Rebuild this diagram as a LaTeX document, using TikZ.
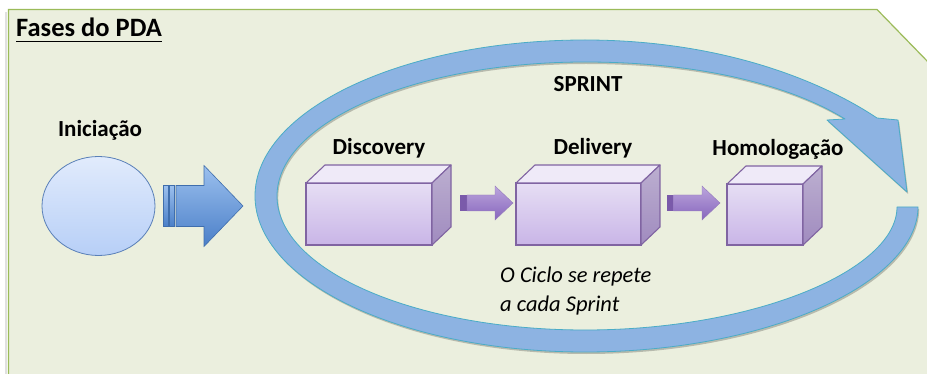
\documentclass[tikz,border=0pt]{standalone}
\usepackage{fontspec}
\setmainfont{Carlito}
\usetikzlibrary{shapes.geometric,calc}
\definecolor{panelfill}{HTML}{EBEFDE}
\definecolor{panelline}{HTML}{9BBB59}
\definecolor{ringfill}{HTML}{8DB3E2}
\definecolor{ringline}{HTML}{4BACC6}
\definecolor{boxline}{HTML}{8064A2}
\definecolor{fronttop}{HTML}{E6DEF4}
\definecolor{frontbot}{HTML}{C9B5E7}
\definecolor{topface}{HTML}{EFEAF8}
\definecolor{sidetop}{HTML}{BCAFD0}
\definecolor{sidebot}{HTML}{A08BBF}
\definecolor{ellitop}{HTML}{E1EBFC}
\definecolor{ellibot}{HTML}{B7CFF7}
\definecolor{elliline}{HTML}{5A80B8}
\definecolor{bigtop}{HTML}{9CC0EE}
\definecolor{bigbot}{HTML}{4A7FC8}
\definecolor{bigline}{HTML}{3F6EAD}
\definecolor{parrtop}{HTML}{BBA5DD}
\definecolor{parrbot}{HTML}{8766BC}
\definecolor{parrstub}{HTML}{7A5AAA}
\def\ringpath{(918,207) .. controls (918,282) and (769,352) .. (585,352)
 .. controls (403,352) and (255,282) .. (255,196)
 .. controls (255,110) and (403,40) .. (585,40)
 .. controls (720,40) and (820,80) .. (877,118)
 -- (898,120) -- (907,192) -- (827,120) -- (845,119)
 .. controls (790,85) and (700,62) .. (585,62)
 .. controls (415,62) and (277,122) .. (277,196)
 .. controls (277,270) and (415,330) .. (585,330)
 .. controls (755,330) and (897,270) .. (897,207) -- cycle}
\newcommand\cuboid[5]{%
  \node[frontface, minimum width=#4, minimum height=#5] (#1) at (#2,#3) {};
  \path[topfacestyle] (#1.north west) -- ([shift={(19,-18)}]#1.north west) -- ([shift={(19,-18)}]#1.north east) -- (#1.north east) -- cycle;
  \path[sidefacestyle] (#1.north east) -- ([shift={(19,-18)}]#1.north east) -- ([shift={(19,-18)}]#1.south east) -- (#1.south east) -- cycle;
}
\newcommand\purplearrow[2]{%
  \fill[parrstub] ([shift={(0,-8)}]#1) rectangle ([shift={(7,8)}]#1);
  \path[parrowstyle] ([shift={(7,-8)}]#1) -- ([shift={(-18,-8)}]#2) -- ([shift={(-18,-17)}]#2) -- (#2) -- ([shift={(-18,17)}]#2) -- ([shift={(-18,8)}]#2) -- ([shift={(7,8)}]#1) -- cycle;
}
\begin{document}
\begin{tikzpicture}[x=1pt,y=-1pt,
  lbl/.style={font=\fontsize{23}{27}\selectfont\bfseries, inner sep=0, anchor=base},
  note/.style={font=\fontsize{22.5}{29}\selectfont\itshape, inner sep=0, anchor=base west},
  frontface/.style={rectangle, draw=boxline, line width=1.1, top color=fronttop, bottom color=frontbot, inner sep=0, outer sep=0},
  topfacestyle/.style={draw=boxline, line width=1.1, fill=topface, line join=round},
  sidefacestyle/.style={draw=boxline, line width=1.1, top color=sidetop, bottom color=sidebot, line join=round},
  parrowstyle/.style={top color=parrtop, bottom color=parrbot, draw=parrstub!80, line width=0.4},
  bigarrow/.style={top color=bigtop, bottom color=bigbot, draw=bigline, line width=0.6}
]
\useasboundingbox (0,0) rectangle (927,374);
\fill[white] (0,0) rectangle (927,374);
% panel
\draw[black!12, line width=2] (5.5,12) -- (5.5,376);
\path[fill=panelfill, draw=panelline, line width=1.2] (8.5,9.5) -- (877,9.5) -- (930,64) -- (930,377) -- (8.5,377) -- cycle;
% title
\node[anchor=base west, inner sep=0, font=\fontsize{26.5}{30}\selectfont\bfseries] (title) at (16,37) {Fases do PDA};
\draw[line width=1.4] ([shift={(0,4.5)}]title.base west) -- ([shift={(0,4.5)}]title.base east);
% ring
\fill[black, opacity=0.22, shift={(1.2,2)}] \ringpath;
\path[fill=ringfill, draw=ringline, line width=0.8, line join=round] \ringpath;
% iniciacao
\node[lbl] (inilbl) at (100,137) {Iniciação};
\node[ellipse, minimum width=113, minimum height=99, inner sep=0, outer sep=0, draw=elliline, line width=0.8, top color=ellitop, bottom color=ellibot] (init) at (98.5,206) {};
% big arrow
\coordinate (bs) at ([shift={(8,0)}]init.east);
\coordinate (bt) at ([shift={(88,0)}]init.east);
\path[bigarrow] ([shift={(0,-20.5)}]bs) rectangle ([shift={(5,20.5)}]bs);
\path[bigarrow] ([shift={(6,-20.5)}]bs) rectangle ([shift={(11,20.5)}]bs);
\path[bigarrow] ([shift={(13,-20.5)}]bs) -- ([shift={(-39,-20.5)}]bt) -- ([shift={(-39,-40.5)}]bt) -- (bt) -- ([shift={(-39,40.5)}]bt) -- ([shift={(-39,20.5)}]bt) -- ([shift={(13,20.5)}]bs) -- cycle;
% sprint label
\node[lbl] (sprint) at (588,92) {SPRINT};
% boxes
\cuboid{disc}{369}{214}{126}{62}
\cuboid{deliv}{578.5}{214}{125}{62}
\cuboid{homol}{765}{214.5}{76}{61}
\node[lbl] (disclbl) at (379,155) {Discovery};
\node[lbl] (delivlbl) at (593,155) {Delivery};
\node[lbl] (homollbl) at (778,156) {Homologação};
% small arrows
\coordinate (a1s) at ([shift={(28,-11)}]disc.east);
\coordinate (a1t) at ([shift={(-3,-11)}]deliv.west);
\coordinate (a2s) at ([shift={(25.5,-11)}]deliv.east);
\coordinate (a2t) at ([shift={(-7,-11.5)}]homol.west);
\purplearrow{a1s}{a1t}
\purplearrow{a2s}{a2t}
% note
\node[note] (note1) at (500,283) {O Ciclo se repete};
\node[note] (note2) at (500,312) {a cada Sprint};
\end{tikzpicture}
\end{document}
